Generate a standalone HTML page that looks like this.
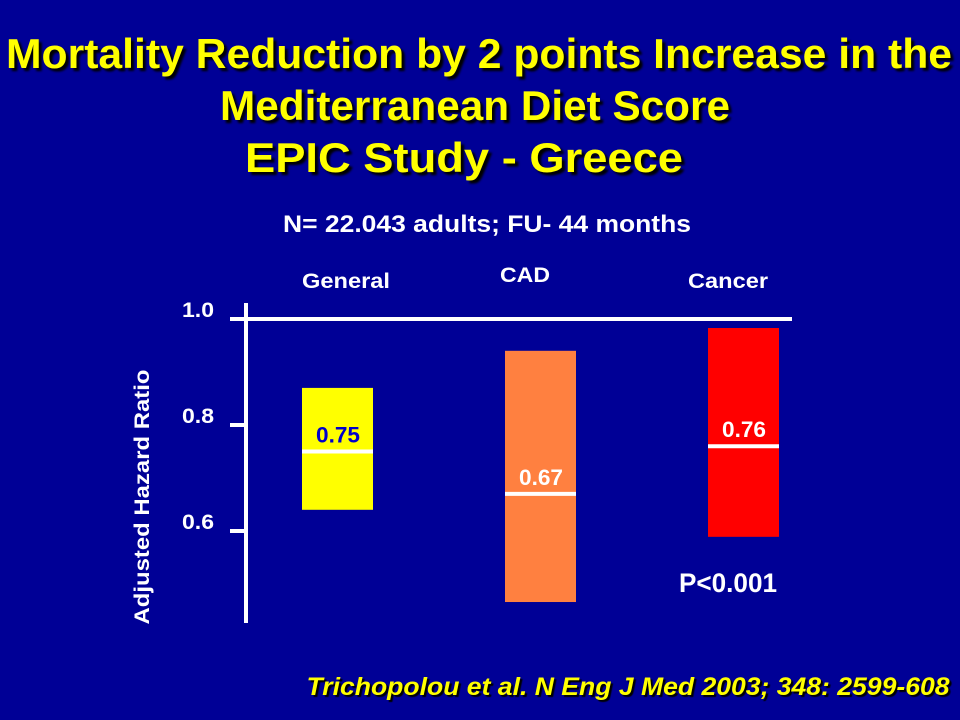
<!DOCTYPE html>
<html><head><meta charset="utf-8"><style>
body{margin:0;width:960px;height:720px;background:#000096;overflow:hidden;font-family:"Liberation Sans",Arial,sans-serif}
</style></head><body>
<svg width="960" height="720" style="position:absolute;left:0;top:0">
<g fill="#ffff00" font-size="42" font-weight="bold" text-anchor="middle" style="text-shadow:3px 3px 2px #000">
<text x="479" y="68" textLength="946" lengthAdjust="spacingAndGlyphs">Mortality Reduction  by 2 points Increase in the</text>
<text x="475" y="120" textLength="510" lengthAdjust="spacingAndGlyphs">Mediterranean Diet Score</text>
<text x="464" y="172" textLength="438" lengthAdjust="spacingAndGlyphs">EPIC Study - Greece</text>
</g>
<text x="487" y="232" fill="#fff" font-size="24" font-weight="bold" text-anchor="middle" textLength="408" lengthAdjust="spacingAndGlyphs">N= 22.043 adults; FU- 44 months</text>
<text x="149" y="497" fill="#fff" font-size="21" font-weight="bold" text-anchor="middle" textLength="255" lengthAdjust="spacingAndGlyphs" transform="rotate(-90 149 497)">Adjusted Hazard Ratio</text>
<g id="g"></g>
<text x="728" y="592" fill="#fff" font-size="27" font-weight="bold" text-anchor="middle" textLength="98" lengthAdjust="spacingAndGlyphs">P&lt;0.001</text>
<text x="628" y="695" fill="#ffff00" font-size="25" font-weight="bold" font-style="italic" text-anchor="middle" textLength="643" lengthAdjust="spacingAndGlyphs" style="text-shadow:2px 2px 1px #000">Trichopolou et al. N Eng J Med 2003; 348: 2599-608</text>
</svg>
<script>
const categories=["General","CAD","Cancer"];
const estimates=[0.75,0.67,0.76];
const lows=[0.64,0.466,0.589];
const highs=[0.87,0.94,0.983];
const colors=["#ffff00","#ff8040","#ff0000"];
const labelColors=["#0000cc","#ffffff","#ffffff"];
const ticks=[1.0,0.8,0.6];
const tickLabels=["1.0","0.8","0.6"];
const NS="http://www.w3.org/2000/svg";
const g=document.getElementById('g');
function y(v){return 319+(1-v)*530;}
function x(i){return 337+i*203;}
function mk(t,a){const e=document.createElementNS(NS,t);for(const k in a)e.setAttribute(k,a[k]);g.appendChild(e);return e;}
let ax=mk('line',{x1:246,y1:303,x2:246,y2:623,stroke:'#fff','stroke-width':4});


let ref=mk('line',{x1:230,y1:y(1),x2:792,y2:y(1),stroke:'#fff','stroke-width':4});


ticks.forEach((v,i)=>{
 let tk=mk('line',{x1:230,y1:y(v),x2:246,y2:y(v),stroke:'#fff','stroke-width':4});
 
 
 let tl=mk('text',{x:198,y:y(v)-2,fill:'#fff','font-size':21,'font-weight':'bold','text-anchor':'middle',textLength:32,lengthAdjust:'spacingAndGlyphs'});
 tl.textContent=tickLabels[i];
 
 
});
const catX=[346,525,728];
const catY=[288,282,288];
const catW=[88,50,80];
categories.forEach((c,i)=>{
 let cl=mk('text',{x:catX[i],y:catY[i],fill:'#fff','font-size':21,'font-weight':'bold','text-anchor':'middle',textLength:catW[i],lengthAdjust:'spacingAndGlyphs'});
 cl.textContent=c;
 
 
 let r=mk('rect',{x:x(i)-35,y:y(highs[i]),width:71,height:y(lows[i])-y(highs[i]),fill:colors[i]});
 
 
 let m=mk('line',{x1:x(i)-35,y1:y(estimates[i]),x2:x(i)+36,y2:y(estimates[i]),stroke:'#fff','stroke-width':4});
 
 
 let v=mk('text',{x:x(i)+1,y:y(estimates[i])-9,fill:labelColors[i],'font-size':22,'font-weight':'bold','text-anchor':'middle',textLength:44,lengthAdjust:'spacingAndGlyphs'});
 v.textContent=estimates[i].toFixed(2);
 
 
});
</script>
</body></html>
